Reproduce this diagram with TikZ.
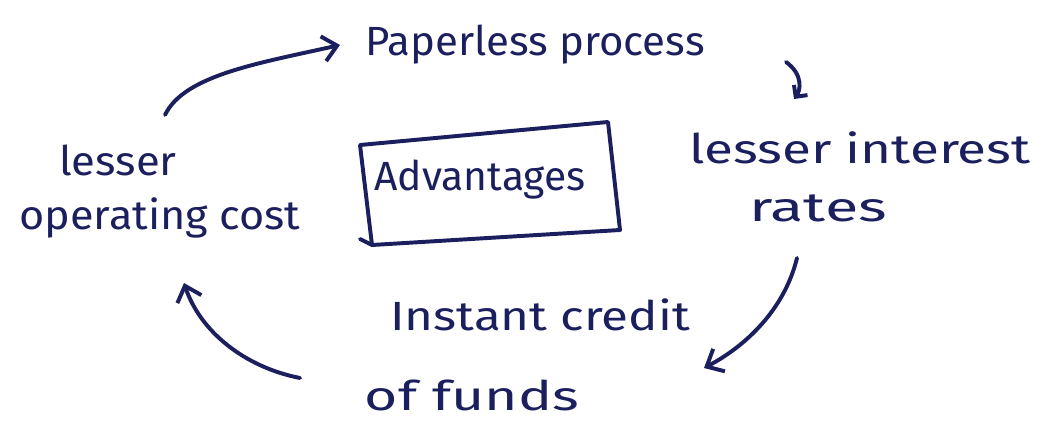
\documentclass[tikz,border=0pt]{standalone}
\usepackage{fontspec}
\setmainfont{Fira Sans}
\usetikzlibrary{arrows.meta}
\definecolor{ink}{HTML}{1B1F5E}
\tikzset{
  hand/.style={text=ink, font=\fontsize{29}{32}\selectfont\mdseries, inner sep=1pt},
  pen/.style={draw=ink, line width=2.8pt, line cap=round, line join=round},
  flow/.style={pen, -{Straight Barb[length=10pt,width=18pt,line width=2.8pt]}},
}
\begin{document}
\begin{tikzpicture}
\useasboundingbox (0,0) rectangle (26.425,10.675);
% cycle labels
\node[hand, xscale=1.03] (paper) at (13.375,9.55) {Paperless process};
\node[hand, xscale=1.3] (rate1) at (21.5,6.975) {lesser interest};
\node[hand, xscale=1.5] (rate2) at (20.45,5.475) {rates};
\node[hand, xscale=1.21] (credit1) at (13.5,2.8) {Instant credit};
\node[hand, xscale=1.4] (credit2) at (11.8,0.8) {of funds};
\node[hand, xscale=1.07] (cost1) at (2.95,6.675) {lesser};
\node[hand, xscale=1.06] (cost2) at (4.0,5.225) {operating cost};
% centre box
\node[hand] (adv) at (12.0,6.175) {Advantages};
\draw[pen]
  (9.0,7.05) -- (15.2,7.625) -- (15.5,4.925) -- (9.3,4.55) -- (9.0,4.7) (9.3,4.55) -- (9.0,7.05);
% arrow end points
\coordinate (a1s) at (4.125,7.8);
\coordinate (a1e) at (8.5,9.55);
\coordinate (a2s) at (19.65,9.125);
\coordinate (a2e) at (19.85,8.2);
\coordinate (a3s) at (19.925,4.225);
\coordinate (a3e) at (17.6,1.475);
\coordinate (a4s) at (7.5,1.225);
\coordinate (a4e) at (4.6,3.6);
% arrows around the cycle
\draw[flow] (a1s) .. controls (4.6,8.8) and (6.5,9.1) .. (a1e);
\draw[pen, -{Straight Barb[length=6pt,width=12pt,line width=2.8pt]}]
  (a2s) .. controls (20.1,8.8) and (20.0,8.4) .. (a2e);
\draw[flow] (a3s) .. controls (19.6,2.9) and (18.6,2.0) .. (a3e);
\draw[flow] (a4s) .. controls (6.1,1.5) and (5.0,2.4) .. (a4e);
\end{tikzpicture}
\end{document}
